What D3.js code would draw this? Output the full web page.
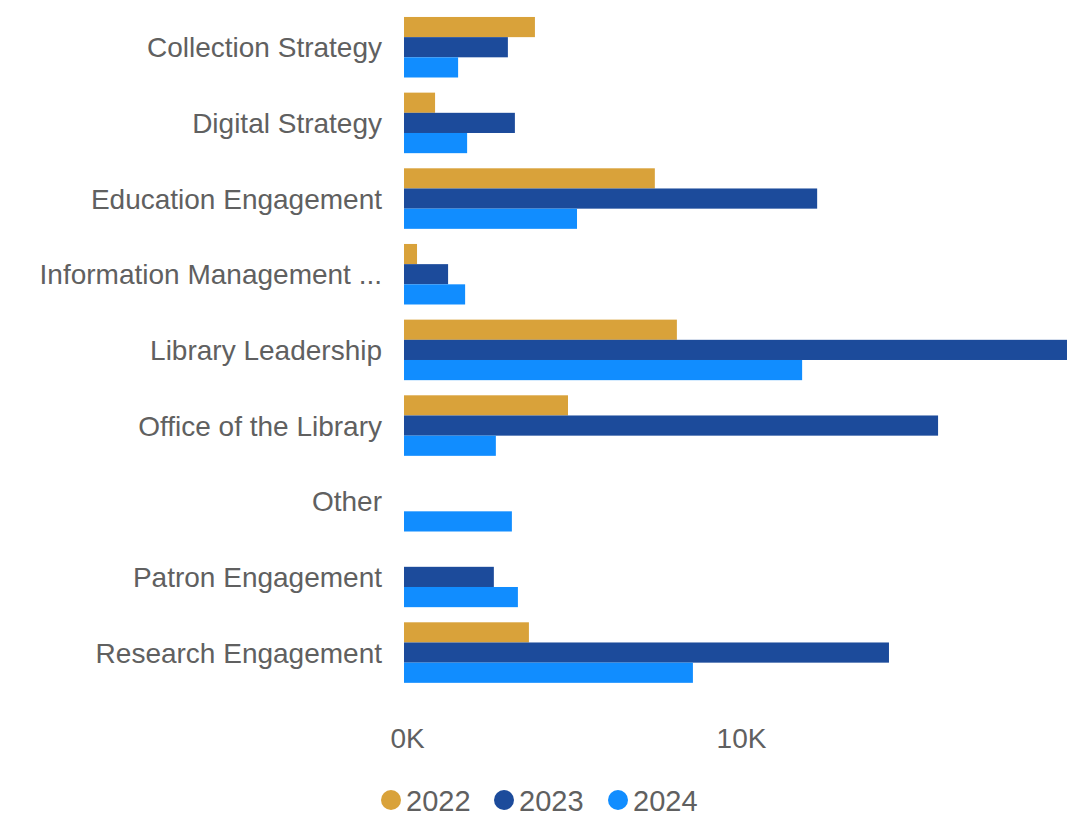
<!DOCTYPE html>
<html>
<head>
<meta charset="utf-8">
<script src="https://cdn.jsdelivr.net/npm/d3@7"></script>
<style>
html,body{margin:0;padding:0;background:#fff;}
svg{display:block;font-family:"Liberation Sans",Arial,sans-serif;}
</style>
</head>
<body>
<svg id="chart" width="1092" height="820"></svg>
<script>
const categories = ["Collection Strategy","Digital Strategy","Education Engagement","Information Management ...","Library Leadership","Office of the Library","Other","Patron Engagement","Research Engagement"];
const years = ["2022","2023","2024"];
const values2022 = [3.92, 0.93, 7.51, 0.39, 8.17, 4.91, 0, 0, 3.74];
const values2023 = [3.11, 3.32, 12.37, 1.32, 19.85, 15.99, 0, 2.69, 14.52];
const values2024 = [1.62, 1.89, 5.18, 1.83, 11.92, 2.75, 3.23, 3.41, 8.65];
const xTicks = [0, 10];
const colors = ["#D9A23A", "#1C4B9B", "#118DFF"];

const series = [values2022, values2023, values2024];
const svg = d3.select("#chart");

const x = d3.scaleLinear().domain([0, 10]).range([404, 738]);
const y = d3.scaleBand().domain(categories).range([9.4, 690.4]).paddingInner(0.2).paddingOuter(0.1);
const ySub = d3.scaleBand().domain(years).range([0, y.bandwidth()]).padding(0);

const data = [];
categories.forEach((c, i) => {
  years.forEach((yr, j) => {
    data.push({cat: c, year: yr, v: series[j][i], color: colors[j]});
  });
});

svg.append("g").selectAll("rect").data(data.filter(d => d.v > 0)).join("rect")
  .attr("x", x(0))
  .attr("y", d => y(d.cat) + ySub(d.year))
  .attr("width", d => x(d.v) - x(0))
  .attr("height", ySub.bandwidth())
  .attr("fill", d => d.color);

// category axis
const yAxis = d3.axisLeft(y).tickSize(0).tickPadding(0);
const gy = svg.append("g").attr("transform", "translate(382,1)").call(yAxis);
gy.select(".domain").remove();
gy.selectAll("text").attr("font-size", 28).attr("fill", "#606060")
  .attr("font-family", "Liberation Sans, Arial, sans-serif");

// value axis
const xAxis = d3.axisBottom(x).tickValues(xTicks).tickSize(0).tickPadding(0).tickFormat(d => d + "K");
const gx = svg.append("g").attr("transform", "translate(3,728)").call(xAxis);
gx.select(".domain").remove();
gx.selectAll("text").attr("font-size", 28).attr("fill", "#606060")
  .attr("font-family", "Liberation Sans, Arial, sans-serif");

// legend
const legendX = [391, 504, 618];
const lg = svg.append("g");
years.forEach((yr, j) => {
  lg.append("circle").attr("cx", legendX[j]).attr("cy", 800).attr("r", 10).attr("fill", colors[j]);
  lg.append("text").attr("x", legendX[j] + 15).attr("y", 811).attr("font-size", 29)
    .attr("fill", "#606060").text(yr);
});
</script>
</body>
</html>
